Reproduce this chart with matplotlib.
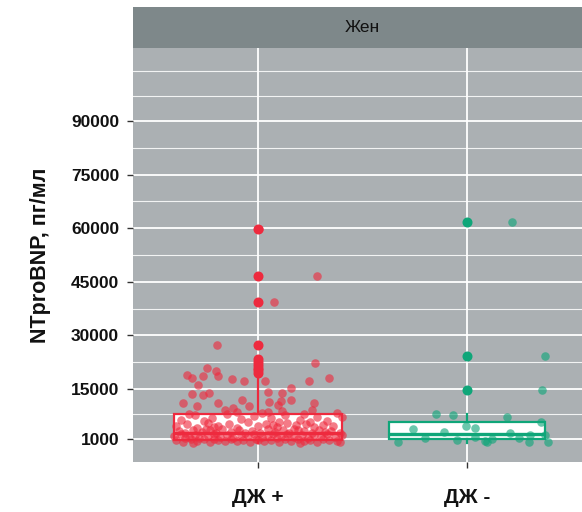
import matplotlib
matplotlib.use("Agg")
import matplotlib.pyplot as plt

# ── Data ──────────────────────────────────────────────────────────────────────

groups = ["ДЖ +", "ДЖ -"]
facet_label = "Жен"
y_label = "NTproBNP, пг/мл"
y_ticks = [1000, 15000, 30000, 45000, 60000, 75000, 90000]
y_minor = [8000, 22500, 37500, 52500, 67500, 82500, 97000, 104000]

# jittered observations: (offset from group centre, value)
red_points = [
    (0.004, 59800), (0.284, 46700), (0.078, 39400), (-0.196, 27250), (0.274, 22400),
    (-0.245, 21000), (-0.200, 20100), (-0.340, 18900), (-0.317, 18100), (-0.265, 18650),
    (-0.190, 18700), (-0.126, 17800), (-0.067, 17200), (0.340, 18100), (0.243, 17150),
    (0.033, 17150), (-0.286, 16200), (0.160, 15400), (-0.314, 13700), (-0.265, 13300),
    (-0.232, 13800), (0.048, 14150), (0.113, 13950), (-0.075, 12000), (-0.360, 11000),
    (-0.294, 10300), (-0.190, 11100), (-0.043, 10300), (0.054, 11450), (0.108, 11550),
    (0.160, 11900), (0.096, 10450), (0.270, 11000), (0.260, 9100), (-0.160, 9050),
    (-0.118, 9600), (-0.100, 8650), (0.048, 8550), (0.115, 8900), (0.380, 8200),
    (0.400, 7250), (0.390, 250),
    (-0.37, 6300), (-0.30, 7600), (-0.22, 6900), (-0.15, 7900), (-0.08, 6500),
    (-0.02, 7400), (0.06, 6800), (0.13, 7700), (0.20, 6400), (0.28, 7100),
    (0.33, 6000), (-0.33, 8100), (0.02, 8300), (0.22, 8000), (-0.26, 5900), (0.10, 5800),
    (-0.39, 4500), (-0.34, 5200), (-0.29, 4100), (-0.24, 5600), (-0.19, 4700),
    (-0.14, 5300), (-0.10, 4200), (-0.05, 5700), (0.00, 4600), (0.04, 5100),
    (0.09, 4300), (0.14, 5500), (0.18, 4800), (0.23, 5300), (0.27, 4400),
    (0.31, 5000), (0.36, 4700), (-0.21, 4400), (0.07, 4900), (0.25, 5800),
    (-0.38, 3200), (-0.35, 2700), (-0.31, 3600), (-0.27, 2900), (-0.23, 3400),
    (-0.20, 2600), (-0.17, 3800), (-0.13, 3000), (-0.09, 3500), (-0.06, 2700),
    (-0.03, 3300), (0.01, 2800), (0.05, 3700), (0.08, 3000), (0.12, 3400),
    (0.15, 2600), (0.19, 3600), (0.22, 3100), (0.26, 2800), (0.29, 3500),
    (0.32, 2900), (0.35, 3300), (0.39, 2700), (-0.25, 3900), (0.17, 3900),
    (-0.40, 1800), (-0.37, 2300), (-0.33, 1500), (-0.30, 2100), (-0.28, 1300),
    (-0.24, 1900), (-0.21, 2400), (-0.18, 1600), (-0.15, 2200), (-0.12, 1400),
    (-0.08, 2000), (-0.05, 1700), (-0.02, 2300), (0.02, 1500), (0.05, 2100),
    (0.09, 1300), (0.11, 1900), (0.14, 2400), (0.17, 1600), (0.21, 2200),
    (0.24, 1400), (0.27, 2000), (0.30, 1700), (0.33, 2300), (0.37, 1500),
    (0.40, 2000), (-0.35, 1200), (0.07, 2400),
    (-0.39, 600), (-0.36, 200), (-0.32, 900), (-0.29, 400), (-0.26, 1000),
    (-0.23, 100), (-0.19, 700), (-0.16, 300), (-0.13, 1100), (-0.10, 500),
    (-0.07, 800), (-0.04, 200), (-0.01, 1000), (0.03, 400), (0.06, 700),
    (0.10, 100), (0.13, 900), (0.16, 300), (0.19, 1100), (0.22, 500),
    (0.25, 800), (0.28, 200), (0.31, 1000), (0.34, 600), (0.38, 300),
    (-0.21, 900), (0.00, 600), (0.20, 0), (-0.31, 0),
]

green_points = [
    (0.214, 61600), (0.373, 24300), (0.360, 14700), (-0.150, 8100), (-0.066, 7650),
    (0.190, 7200), (0.354, 5850), (-0.260, 3800), (-0.007, 4550), (0.038, 4000),
    (-0.112, 2900), (0.206, 2600), (0.300, 2100), (0.373, 2100), (0.038, 1650),
    (0.086, 300), (-0.330, 100), (0.094, 100), (0.298, 100), (0.389, 250),
    (-0.200, 1200), (0.120, 900), (-0.050, 600), (0.250, 1400),
]

# box summaries per group
red_box = dict(whislo=0, q1=600, med=2600, q3=8000, whishi=18500,
               fliers=[59800, 46700, 39400, 27300, 23500, 22600, 21800, 21000, 20200, 19500])
green_box = dict(whislo=0, q1=1000, med=2300, q3=5850, whishi=7900,
                 fliers=[61600, 24300, 14700])

# ── Style ─────────────────────────────────────────────────────────────────────

RED = "#EE2A3E"
GREEN = "#0FA679"
PANEL = "#ABB0B3"
STRIP = "#7E888A"
TEXT = "#111111"

plt.rcParams["font.family"] = ["Liberation Sans", "DejaVu Sans"]

W, H = 582, 512
fig = plt.figure(figsize=(W / 100, H / 100), dpi=100)

px_left, px_right, px_top, px_bottom = 133, 582, 48, 462
strip_top = 7
ax = fig.add_axes([px_left / W, 1 - px_bottom / H,
                   (px_right - px_left) / W, (px_bottom - px_top) / H])
ax.set_facecolor(PANEL)

# ── Boxes ─────────────────────────────────────────────────────────────────────

for pos, stats, color, width in [(1, red_box, RED, 0.80), (2, green_box, GREEN, 0.75)]:
    line = dict(color=color, lw=1.6)
    ax.bxp([stats], positions=[pos], widths=[width], patch_artist=True,
           showcaps=False, manage_ticks=False,
           boxprops=dict(facecolor="white", edgecolor=color, lw=1.6),
           medianprops=dict(color=color, lw=2.4),
           whiskerprops=line,
           flierprops=dict(marker="o", markersize=6.2, markerfacecolor=color,
                           markeredgecolor=color, alpha=1.0),
           zorder=2)

# ── Jittered points ───────────────────────────────────────────────────────────

for pos, pts, color in [(1, red_points, RED), (2, green_points, GREEN)]:
    xs = [pos + p[0] for p in pts]
    ys = [p[1] for p in pts]
    ax.scatter(xs, ys, s=38, color=color, alpha=0.62, linewidths=0, zorder=3)

# ── Grid ──────────────────────────────────────────────────────────────────────

for v in y_minor:
    ax.axhline(v, color="white", lw=0.8, alpha=0.85, zorder=0)
ax.set_yticks(y_ticks)
ax.set_yticklabels([str(t) for t in y_ticks])
ax.set_xticks([1, 2])
ax.set_xticklabels(groups)
ax.grid(True, which="major", color="white", lw=1.3, zorder=0)
ax.set_axisbelow(True)

# ── Axes ──────────────────────────────────────────────────────────────────────

ax.set_xlim(0.402, 1 + (px_right - 258) / 209)
y_per_px = 279.87
y_zero_px = 442.57
ax.set_ylim((y_zero_px - px_bottom) * y_per_px, (y_zero_px - px_top) * y_per_px)

for s in ax.spines.values():
    s.set_visible(False)
ax.tick_params(axis="both", length=4, width=1, color="#333333")
ax.tick_params(axis="y", labelsize=12.5, labelcolor=TEXT, pad=6)
ax.tick_params(axis="x", labelsize=15, labelcolor=TEXT, pad=15)
for lab in ax.get_yticklabels() + ax.get_xticklabels():
    lab.set_fontweight("bold")

ax.set_ylabel(y_label, fontsize=15.5, fontweight="bold", color=TEXT, labelpad=14)

# ── Facet strip ───────────────────────────────────────────────────────────────

sax = fig.add_axes([px_left / W, 1 - px_top / H,
                    (px_right - px_left) / W, (px_top - strip_top) / H])
sax.set_facecolor(STRIP)
sax.set_xlim(ax.get_xlim())
sax.set_ylim(0, 1)
sax.set_xticks([])
sax.set_yticks([])
for s in sax.spines.values():
    s.set_visible(False)
sax.text(1.5, 0.5, facet_label, ha="center", va="center", fontsize=12.5, color=TEXT)

fig.savefig("out.png", dpi=100)
